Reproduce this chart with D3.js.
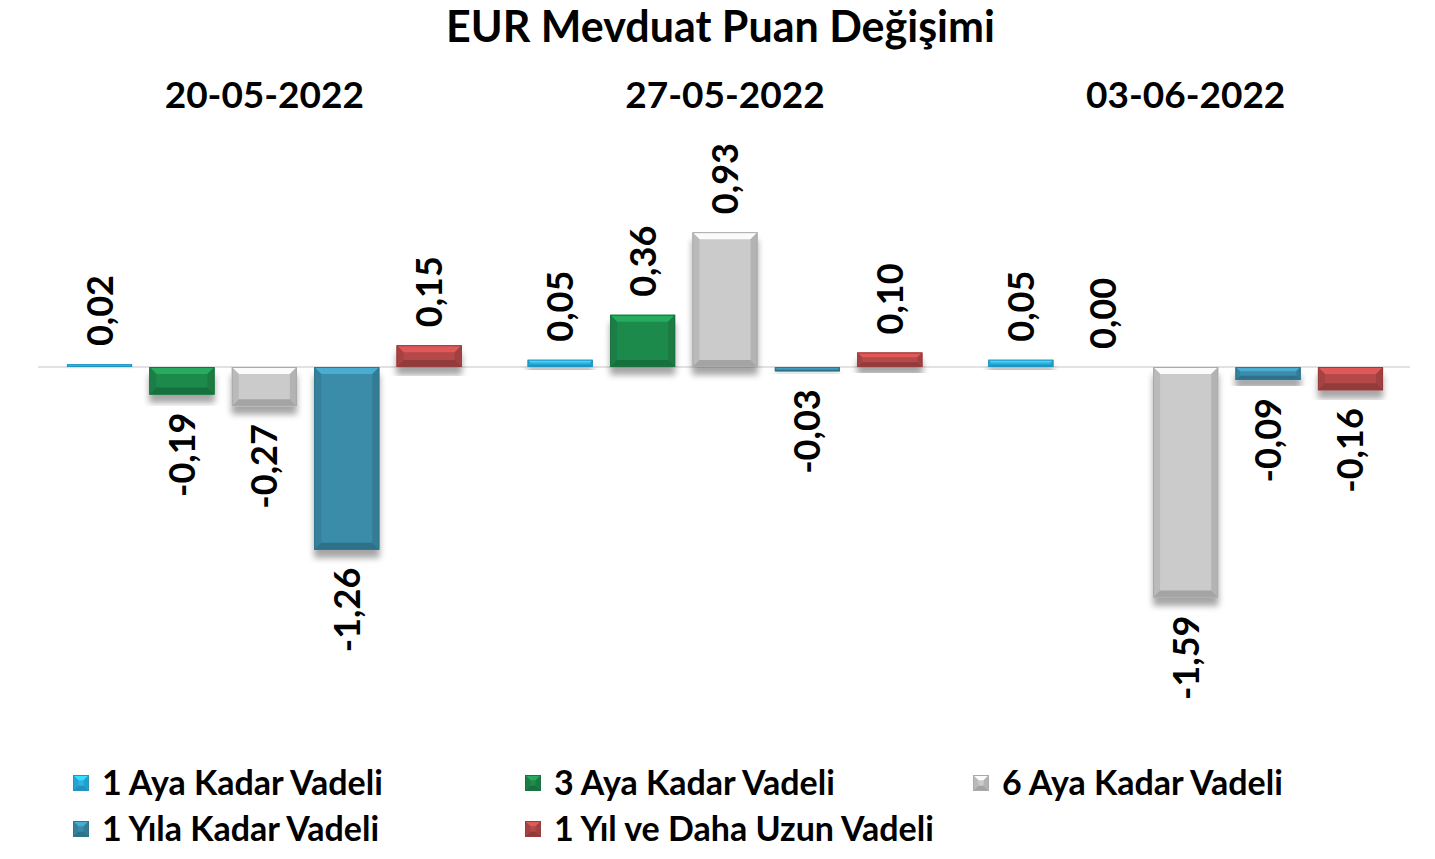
<!DOCTYPE html>
<html>
<head>
<meta charset="utf-8">
<script src="https://cdn.jsdelivr.net/npm/d3@7"></script>
<style>
  body { margin: 0; background: #fff; }
  text { font-family: Lato, "Open Sans", sans-serif; font-weight: 700; fill: #000; }
</style>
</head>
<body>
<div id="chart"></div>
<script>
// EUR deposit rate change (points), three weekly snapshots

const dates = ["20-05-2022", "27-05-2022", "03-06-2022"];
const seriesNames = [
  "1 Aya Kadar Vadeli",
  "3 Aya Kadar Vadeli",
  "6 Aya Kadar Vadeli",
  "1 Yıla Kadar Vadeli",
  "1 Yıl ve Daha Uzun Vadeli"
];
// values per date, in series order
const week1 = [0.02, -0.19, -0.27, -1.26, 0.15];
const week2 = [0.05, 0.36, 0.93, -0.03, 0.10];
const week3 = [0.05, 0.00, -1.59, -0.09, -0.16];
const colors = ["#2bb3e6", "#1f8a4c", "#cbcbcb", "#3a8ca9", "#b54848"];

const width = 1435, height = 859;
const margin = { left: 38, right: 25 };

const rows = [week1, week2, week3];
const data = [];
rows.forEach((vals, gi) => {
  vals.forEach((v, si) => data.push({ date: dates[gi], series: si, value: v }));
});

const svg = d3.select("#chart").append("svg")
  .attr("width", width)
  .attr("height", height);

const defs = svg.append("defs");
const shadow = defs.append("filter").attr("id", "shadow")
  .attr("x", "-20%").attr("y", "-20%").attr("width", "140%").attr("height", "160%");
shadow.append("feDropShadow")
  .attr("dx", 0).attr("dy", 8).attr("stdDeviation", 3)
  .attr("flood-color", "#000").attr("flood-opacity", 0.35);

const x0 = d3.scaleBand()
  .domain(dates)
  .range([34, 1416]);

const x1 = d3.scaleBand()
  .domain(d3.range(seriesNames.length))
  .range([0, x0.bandwidth()])
  .paddingInner(0.21)
  .paddingOuter(0.4);

const y = d3.scaleLinear()
  .domain([-1.8, 1.6])
  .range([628, 135]);

// Title
svg.append("text")
  .attr("x", width / 2 + 3)
  .attr("y", 42)
  .attr("text-anchor", "middle")
  .style("font-size", "43px")
  .text("EUR Mevduat Puan Değişimi");

// Date headers
svg.selectAll("text.date")
  .data(dates)
  .enter()
  .append("text")
  .attr("class", "date")
  .attr("x", d => x0(d) + x0.bandwidth() / 2)
  .attr("y", 108)
  .attr("text-anchor", "middle")
  .style("font-size", "37px")
  .text(d => d);

// Zero line
svg.append("line")
  .attr("x1", margin.left)
  .attr("x2", width - margin.right)
  .attr("y1", y(0))
  .attr("y2", y(0))
  .attr("stroke", "#d9d9d9")
  .attr("stroke-width", 1.5);

// Bars with a bevel look
const bars = svg.selectAll("g.bar")
  .data(data.filter(d => d.value !== 0))
  .enter()
  .append("g")
  .attr("class", "bar")
  .attr("filter", "url(#shadow)");

function bevel(g, x, top, w, h, color) {
  const b = Math.min(7, h / 3, w / 3);
  const c = d3.color(color);
  g.append("rect")
    .attr("x", x).attr("y", top).attr("width", w).attr("height", h)
    .attr("fill", color);
  const x2 = x + w, y2 = top + h;
  const poly = (pts, fill) => g.append("polygon")
    .attr("points", pts.map(p => p.join(",")).join(" "))
    .attr("fill", fill);
  poly([[x, top], [x2, top], [x2 - b, top + b], [x + b, top + b]], c.brighter(0.6));
  poly([[x, top], [x + b, top + b], [x + b, y2 - b], [x, y2]], c.darker(0.25));
  poly([[x2, top], [x2 - b, top + b], [x2 - b, y2 - b], [x2, y2]], c.darker(0.35));
  poly([[x, y2], [x + b, y2 - b], [x2 - b, y2 - b], [x2, y2]], c.darker(0.6));
  g.append("rect")
    .attr("x", x + 0.5).attr("y", top + 0.5).attr("width", w - 1).attr("height", Math.max(0, h - 1))
    .attr("fill", "none")
    .attr("stroke", c.darker(0.5))
    .attr("stroke-width", 1);
}

bars.each(function (d) {
  const bx = x0(d.date) + x1(d.series);
  const top = Math.min(y(d.value), y(0));
  const h = Math.abs(y(d.value) - y(0));
  bevel(d3.select(this), bx, top, x1.bandwidth(), h, colors[d.series]);
});

// Value labels, rotated
const fmt = v => v.toFixed(2).replace(".", ",");
svg.selectAll("text.val")
  .data(data)
  .enter()
  .append("text")
  .attr("class", "val")
  .attr("transform", d => {
    const cx = x0(d.date) + x1(d.series) + x1.bandwidth() / 2;
    const yy = d.value >= 0 ? y(d.value) - 18 : y(d.value) + 18;
    return `translate(${cx + 13},${yy}) rotate(-90)`;
  })
  .attr("text-anchor", d => d.value >= 0 ? "start" : "end")
  .style("font-size", "36px")
  .text(d => fmt(d.value));

// Legend
const legendPos = [
  [75, 783], [527, 783], [975, 783],
  [75, 829], [527, 829]
];
const legend = svg.selectAll("g.legend")
  .data(seriesNames)
  .enter()
  .append("g")
  .attr("class", "legend")
  .attr("transform", (d, i) => `translate(${legendPos[i][0]},${legendPos[i][1]})`);

legend.each(function (d, i) {
  bevel(d3.select(this), -2, -8, 16, 16, colors[i]);
});

legend.append("text")
  .attr("x", 27)
  .attr("y", 12)
  .style("font-size", "34px")
  .text(d => d);
</script>
</body>
</html>
